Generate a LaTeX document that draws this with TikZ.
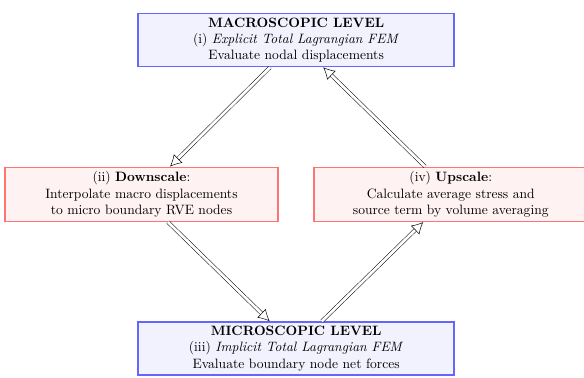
\documentclass[tikz,border=0pt]{standalone}
\usepackage{tikz}
\usetikzlibrary{positioning,arrows.meta}

\begin{document}
\begin{tikzpicture}[node distance=4.32cm, font=\fontsize{10.8pt}{13pt}\selectfont,
        levelbox/.style={draw=blue!60, fill=blue!5, line width=1.2pt, minimum width=8.85cm, minimum height=1.45cm, align=center},
        scalebox/.style={draw=red!55, fill=red!5, line width=1.2pt, minimum width=7.65cm, minimum height=1.48cm, align=center},
        link/.style={double, double distance=2.2pt, -{Latex[open, length=3.2mm, width=3.4mm]}}]
        \useasboundingbox (-8.29,1.12) rectangle (8.06,-9.44);

        \node (macro) [levelbox] {\textbf{MACROSCOPIC LEVEL}\\(i) \textit{Explicit Total Lagrangian FEM}\\Evaluate nodal displacements};
        \node (down) [scalebox, below of=macro, xshift=-4.33cm] {(ii) \textbf{Downscale}:\\Interpolate macro displacements\\to micro boundary RVE nodes};
        \node (up) [scalebox, below of=macro, xshift=4.33cm] {(iv) \textbf{Upscale}:\\Calculate average stress and\\source term by volume averaging};
        \node (micro) [levelbox, below of=down, xshift=4.33cm] {\textbf{MICROSCOPIC LEVEL}\\(iii) \textit{Implicit Total Lagrangian FEM}\\Evaluate boundary node net forces};

        \draw[link] ([xshift=-0.73cm]macro.south) -- ([xshift=0.8cm]down.north);
        \draw[link] ([xshift=0.74cm]down.south) -- ([xshift=-0.74cm]micro.north);
        \draw[link] ([xshift=0.72cm]micro.north) -- ([xshift=-0.77cm]up.south);
        \draw[link] ([xshift=-0.72cm]up.north) -- ([xshift=0.76cm]macro.south);
    \end{tikzpicture}
\end{document}
